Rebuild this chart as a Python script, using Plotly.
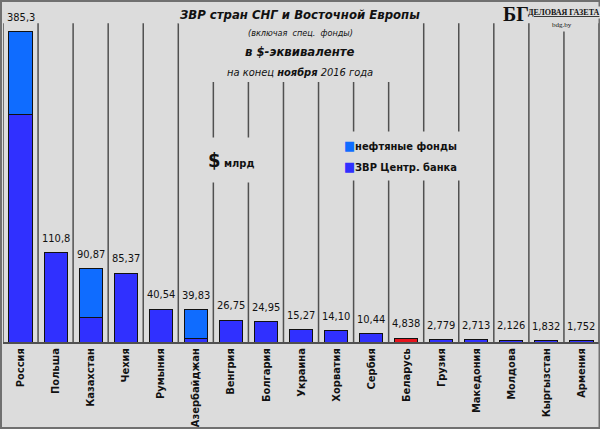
import plotly.graph_objects as go

# data ($ bn, end of Nov 2016)
countries = ["Россия", "Польша", "Казахстан", "Чехия", "Румыния", "Азербайджан",
             "Венгрия", "Болгария", "Украина", "Хорватия", "Сербия", "Беларусь",
             "Грузия", "Македония", "Молдова", "Кыргызстан", "Армения"]
cb_reserves = [282.0, 110.8, 30.0, 85.37, 40.54, 4.0, 26.75, 24.95, 15.27, 14.10,
               10.44, 4.838, 2.779, 2.713, 2.126, 1.832, 1.752]
oil_funds = [103.3, 0, 60.87, 0, 0, 35.83, 0, 0, 0, 0, 0, 0, 0, 0, 0, 0, 0]
highlight = "Беларусь"

BG = "#dcdcdc"
CB_COLOR = "#3030ff"
FUND_COLOR = "#0f6cff"
RED = "#e8141c"
FONT = "DejaVu Sans Condensed, DejaVu Sans"

W, H = 600, 429
ML, MR, MT, MB = 3, 1, 20, 87
PW, PH = W - ML - MR, H - MT - MB


def fmt(v):
    # 4 significant digits, decimal comma
    d = 3 - len(str(int(v))) + 1
    return f"{v:.{max(d, 0)}f}".replace(".", ",")


totals = [c + f for c, f in zip(cb_reserves, oil_funds)]
xs = list(range(len(countries)))

fig = go.Figure(
    layout=go.Layout(
        width=W,
        height=H,
        margin=dict(l=ML, r=MR, t=MT, b=MB),
        paper_bgcolor=BG,
        plot_bgcolor=BG,
        barmode="stack",
        bargap=0.34,
        showlegend=False,
        font=dict(family=FONT, color="#111"),
    )
)

fig.add_trace(go.Bar(
    x=xs, y=cb_reserves, name="ЗВР Центр. банка",
    marker=dict(color=[RED if c == highlight else CB_COLOR for c in countries],
                line=dict(color="#111", width=1)),
))
fig.add_trace(go.Bar(
    x=xs, y=oil_funds, name="нефтяные фонды",
    marker=dict(color=FUND_COLOR, line=dict(color="#111", width=1)),
))

# value labels above the bars
for x, v in zip(xs, totals):
    fig.add_annotation(x=x, y=v, text=fmt(v), showarrow=False, yanchor="bottom",
                       yshift=6, font=dict(family=FONT, size=11, color="#111"))

# separators between the categories
for k in range(len(countries) + 1):
    fig.add_shape(type="line", xref="x", yref="paper", x0=k - 0.5, x1=k - 0.5,
                  y0=0, y1=0.99, line=dict(color="#505050", width=1.5), layer="below")
# title block hides the separators under it
fig.add_shape(type="rect", xref="paper", yref="paper",
              x0=(200 - ML) / PW, x1=(402 - ML) / PW, y0=(342 - 82) / PH, y1=1.1,
              fillcolor=BG, line=dict(width=0), layer="below")
# outer frame
fig.add_shape(type="rect", xref="paper", yref="paper",
              x0=-(ML - 1) / PW, x1=1 + (MR - 0.5) / PW,
              y0=-(MB - 1) / PH, y1=1 + (MT - 1) / PH,
              line=dict(color="#707070", width=2))

fig.update_xaxes(
    range=[-0.5, len(countries) - 0.5], tickvals=xs,
    ticktext=[f"<b>{c}</b>" for c in countries], tickangle=-90,
    tickfont=dict(family=FONT, size=11, color="#111"),
    showgrid=False, zeroline=False, showline=True, linecolor="#505050", linewidth=1.5,
    ticks="",
)
fig.update_yaxes(range=[0, 400], visible=False, showgrid=False)

titles = [
    ("<b><i>ЗВР стран СНГ и Восточной Европы</i></b>", 13, 14),
    ("<i>(включая  спец.  фонды)</i>", 9, 33),
    ("<b><i>в $-эквиваленте</i></b>", 13, 52),
    ("<i>на конец <b>ноября</b> 2016 года</i>", 11, 72),
]
for text, size, ypx in titles:
    fig.add_annotation(text=text, xref="paper", yref="paper", x=(300 - ML) / PW,
                       y=(342 - ypx) / PH, showarrow=False, xanchor="center",
                       yanchor="middle", font=dict(family=FONT, size=size, color="#111"),
                       bgcolor=BG)

# hand-made legend
legend_items = [("нефтяные фонды", FUND_COLOR, 145), ("ЗВР Центр. банка", CB_COLOR, 166)]
for text, color, ypx in legend_items:
    fig.add_annotation(text=f"<span style='color:{color};font-size:13px'>■</span><b>{text}</b>",
                       xref="paper", yref="paper", x=(337 - ML) / PW, y=(342 - ypx) / PH,
                       showarrow=False, xanchor="left", yanchor="middle",
                       font=dict(family=FONT, size=11, color="#111"),
                       bgcolor=BG, borderpad=6)

fig.add_annotation(text="<b><span style='font-size:20px'>$</span> млрд</b>",
                   xref="paper", yref="paper", x=(231 - ML) / PW, y=(342 - 160) / PH,
                   showarrow=False, xanchor="center", yanchor="middle",
                   font=dict(family=FONT, size=11, color="#111"), bgcolor=BG, borderpad=10)

# logo
fig.add_annotation(text="<u><b>ДЕЛОВАЯ ГАЗЕТА</b></u>", xref="paper", yref="paper",
                   x=(564 - ML) / PW, y=(342 - 13) / PH, showarrow=False,
                   xanchor="center", yanchor="middle",
                   font=dict(family="Liberation Serif", size=8, color="#111"), bgcolor=BG)
fig.add_annotation(text="<b>БГ</b>", xref="paper", yref="paper", x=(516 - ML) / PW,
                   y=(342 - 14) / PH, showarrow=False, xanchor="center", yanchor="middle",
                   font=dict(family="Liberation Serif", size=20, color="#111"))
fig.add_annotation(text="bdg.by", xref="paper", yref="paper", x=(562 - ML) / PW,
                   y=(342 - 25) / PH, showarrow=False, xanchor="center", yanchor="middle",
                   font=dict(family="Liberation Serif", size=7, color="#111"), bgcolor=BG,
                   borderpad=2)

fig.write_html("out.html", config={"displayModeBar": False},
               post_script="document.body.style.margin='0';")
